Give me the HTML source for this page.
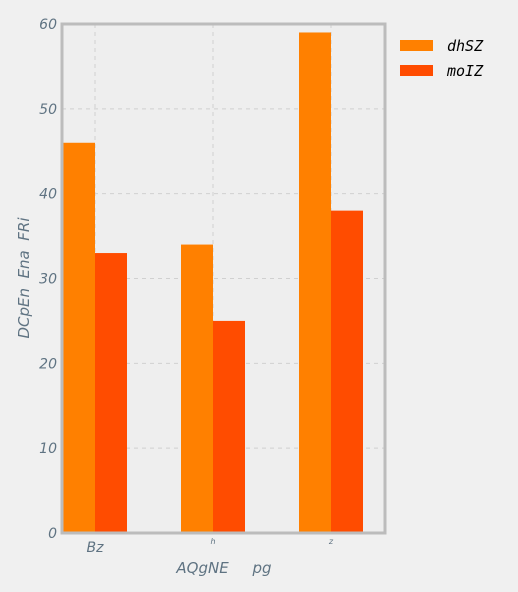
<!DOCTYPE html>
<html><head><meta charset="utf-8"><style>
html,body{margin:0;background:#f0f0f0;width:518px;height:592px;overflow:hidden}
svg{display:block}
svg text{font-family:"DejaVu Sans",sans-serif;font-style:italic;fill:#5f7382;white-space:pre}
</style></head><body>
<svg id="c" width="518" height="592"></svg>
<script>
const categories=["Bz","h","z"];
const seriesNames=["dhSZ","moIZ"];
const dhSZ=[46,34,59];
const moIZ=[33,25,38];
const yTicks=[0,10,20,30,40,50,60];
const colors=["#ff8000","#ff4c00"];
const NS="http://www.w3.org/2000/svg";
const svg=document.getElementById('c');
const L=62,R=385,T=24,B=533;
const y=v=>B-(v/60)*(B-T);
const cx=i=>95+i*118;
function mk(t,a,p){const e=document.createElementNS(NS,t);for(const k in a)e.setAttribute(k,a[k]);(p||svg).appendChild(e);return e;}
const bg=mk('rect',{x:L,y:T,width:R-L,height:B-T,fill:'#eeeeee'});


yTicks.forEach(v=>{
 if(v>0&&v<60){const g=mk('line',{x1:L,x2:R,y1:y(v),y2:y(v),stroke:'#d0d0d0','stroke-dasharray':'4,4'});
 
 }
 const t=mk('text',{x:57,y:y(v)+5,'text-anchor':'end','font-size':14});t.textContent=v;
 
 
});
categories.forEach((c,i)=>{
 const g=mk('line',{x1:cx(i),x2:cx(i),y1:T,y2:B,stroke:'#d0d0d0','stroke-dasharray':'4,4'});
 
 
});
const series=[dhSZ,moIZ];
series.forEach((s,k)=>s.forEach((v,i)=>{
 const r=mk('rect',{x:cx(i)-32+k*32,y:y(v),width:32,height:B-y(v),fill:colors[k]});
 
 
}));
const fr=mk('rect',{x:L,y:T,width:R-L,height:B-T,fill:'none',stroke:'#bcbcbc','stroke-width':3});


categories.forEach((c,i)=>{
 const big=i===0;
 const t=mk('text',{x:cx(i),y:big?552:544,'text-anchor':'middle','font-size':big?14:8});t.textContent=c;
 
 
});
const xt=mk('text',{x:224,y:573,'text-anchor':'middle','font-size':15});xt.textContent="AQgNE     pg";


const yt=mk('text',{x:29,y:278,'text-anchor':'middle','font-size':15,transform:'rotate(-90 29 278)'});yt.textContent="DCpEn  Ena  FRi";


seriesNames.forEach((n,k)=>{
 const r=mk('rect',{x:400,y:40+k*25,width:33,height:11,fill:colors[k]});
 
 
 const t=mk('text',{x:447,y:51+k*25,'font-size':15});t.textContent=n;
 t.setAttribute('style','fill:#000;font-family:"DejaVu Sans Mono",monospace');
 
 
});
</script>
</body></html>
